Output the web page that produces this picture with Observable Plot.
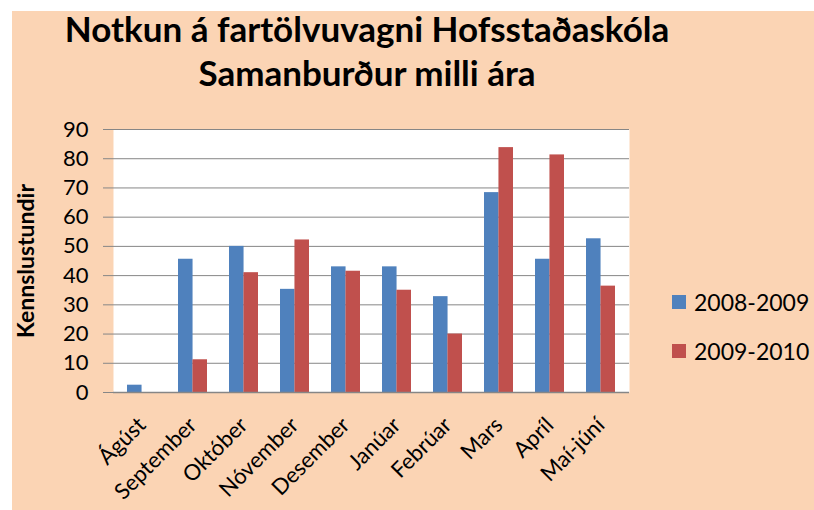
<!DOCTYPE html>
<html>
<head>
<meta charset="utf-8">
<script src="https://cdn.jsdelivr.net/npm/d3@7"></script>
<script src="https://cdn.jsdelivr.net/npm/@observablehq/plot@0.6"></script>
<style>
  html, body { margin: 0; padding: 0; background: #ffffff; }
  body { width: 814px; height: 510px; position: relative; overflow: hidden; font-family: Lato, "Open Sans", sans-serif; }
  #bg { position: absolute; left: 12px; top: 11px; width: 802px; height: 499px; background: #FBD4B4; }
  #chart { position: absolute; left: 0; top: 0; }
  .title { position: absolute; left: 0; width: 734px; text-align: center; font-weight: bold; font-size: 35px; line-height: 40px; color: #000; white-space: nowrap; }
  #ylabel { position: absolute; left: 25px; top: 261px; transform: translate(-50%, -50%) rotate(-90deg); font-weight: bold; font-size: 23px; white-space: nowrap; color:#000; }
  .leg { position: absolute; left: 672px; font-size: 23px; color: #000; white-space: nowrap; display: flex; align-items: center; }
  .sw { width: 14px; height: 14px; margin-right: 8px; display: inline-block; }
</style>
</head>
<body>
<div id="bg"></div>
<div id="chart"></div>
<div class="title" style="top:8px">Notkun á fartölvuvagni Hofsstaðaskóla</div>
<div class="title" style="top:52px">Samanburður milli ára</div>
<div id="ylabel">Kennslustundir</div>
<div id="legend"></div>
<script>
const months = ["Ágúst", "September", "Október", "Nóvember", "Desember", "Janúar", "Febrúar", "Mars", "Apríl", "Maí-júní"];
const seriesNames = ["2008-2009", "2009-2010"];
const values2008 = [2.5, 45.6, 50, 35.3, 43, 43, 32.8, 68.4, 45.6, 52.6];
const values2009 = [0, 11.2, 41, 52.2, 41.5, 35, 20, 83.8, 81.3, 36.4];
const yTicks = [0, 10, 20, 30, 40, 50, 60, 70, 80, 90];
const colors = ["#4F81BD", "#C0504D"];

const data = months.map((m, i) => ({month: m, a: values2008[i], b: values2009[i]}));
const grid = "#868686";

const chart = Plot.plot({
  width: 814,
  height: 510,
  marginLeft: 113,
  marginRight: 185,
  marginTop: 129,
  marginBottom: 118,
  style: {background: "transparent", fontFamily: "Lato, 'Open Sans', sans-serif", color: "#000"},
  x: {domain: months, paddingInner: 0.44, paddingOuter: 0.22},
  y: {domain: [0, 90]},
  marks: [
    Plot.frame({fill: "white", stroke: "none"}),
    Plot.ruleY(yTicks, {stroke: grid, strokeWidth: 1}),
    Plot.barY(data, {x: "month", y: "a", fill: colors[0], insetRight: 14.45}),
    Plot.barY(data, {x: "month", y: "b", fill: colors[1], insetLeft: 14.45}),
    Plot.axisY({ticks: yTicks, tickSize: 10, tickPadding: 15, stroke: grid, fill: "#000", fontSize: 22, label: null, line: true}),
    Plot.axisX({tickSize: 0, tickPadding: 29, tickRotate: -45, fill: "#000", fontSize: 22, label: null}),
    Plot.ruleY([0], {stroke: grid, strokeWidth: 1.5})
  ]
});
document.getElementById("chart").appendChild(chart);

const legend = document.getElementById("legend");
seriesNames.forEach((s, i) => {
  const d = document.createElement("div");
  d.className = "leg";
  d.style.top = (288 + i * 49) + "px";
  d.innerHTML = `<span class="sw" style="background:${colors[i]}"></span>${s}`;
  legend.appendChild(d);
});
</script>
</body>
</html>
